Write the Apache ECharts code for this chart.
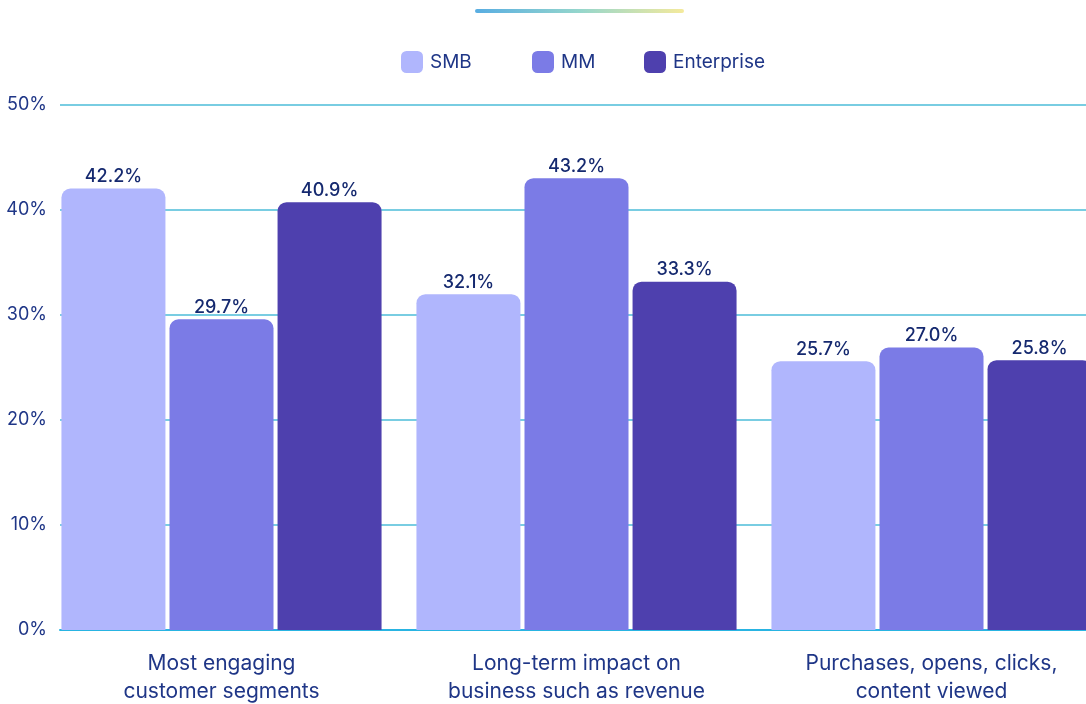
<!DOCTYPE html>
<html lang="en">
<head>
    <meta charset="UTF-8">
    <script src="https://cdn.jsdelivr.net/npm/echarts@6/dist/echarts.min.js"></script>
    <style>
        html, body { margin: 0; padding: 0; background: #fff; }
        #chart { width: 1086px; height: 704px; }
    </style>
</head>
<body>
<div id="chart"></div>
<script>
    // data
    var categories = ['Most engaging\ncustomer segments', 'Long-term impact on\nbusiness such as revenue', 'Purchases, opens, clicks,\ncontent viewed'];
    var seriesNames = ['SMB', 'MM', 'Enterprise'];
    var smbValues = [42.2, 32.1, 25.7];
    var mmValues = [29.7, 43.2, 27.0];
    var enterpriseValues = [40.9, 33.3, 25.8];
    var yTicks = [0, 10, 20, 30, 40, 50];

    var colors = ['#b0b6fd', '#7b7be6', '#4e40ae'];
    var fontFamily = 'Inter, "Noto Sans", sans-serif';
    var navy = '#1f3687';

    var myChart = echarts.init(document.getElementById('chart'));

    function makeSeries(name, values, color) {
        return {
            name: name,
            type: 'bar',
            xAxisIndex: 0,
            yAxisIndex: 0,
            data: values,
            barWidth: 104,
            barGap: '3.9%',
            itemStyle: { color: color, borderRadius: [9, 9, 0, 0] },
            label: {
                show: true,
                position: 'top',
                distance: 3,
                formatter: function (p) { return p.value.toFixed(1) + '%'; },
                color: '#15296f',
                fontFamily: fontFamily,
                fontSize: 18,
                fontWeight: 500
            }
        };
    }

    function makeLegend(name, left) {
        return {
            data: [name],
            left: left,
            top: 51,
            padding: 0,
            icon: 'roundRect',
            itemWidth: 22,
            itemHeight: 22,
            textStyle: { color: navy, fontFamily: fontFamily, fontSize: 19, padding: [5, 0, 0, 2] }
        };
    }

    var option = {
        animation: false,
        color: colors,
        legend: [
            makeLegend('SMB', 401),
            makeLegend('MM', 532),
            makeLegend('Enterprise', 644)
        ],
        graphic: [{
            type: 'line',
            shape: { x1: 477, y1: 11, x2: 682, y2: 11 },
            style: {
                lineWidth: 4,
                lineCap: 'round',
                stroke: new echarts.graphic.LinearGradient(0, 0, 1, 0, [
                    { offset: 0, color: '#58ade2' },
                    { offset: 0.5, color: '#95d6cc' },
                    { offset: 1, color: '#f5ea9c' }
                ])
            }
        }],
        grid: [
            // bars, wider than the window like the cropped original
            { left: 44, width: 1065, top: 107, bottom: 74, outerBoundsMode: 'none' },
            // axis and grid lines
            { left: 60, right: 0, top: 105, bottom: 74, outerBoundsMode: 'none' }
        ],
        xAxis: [{
            type: 'category',
            gridIndex: 0,
            data: categories,
            axisLine: { show: false },
            axisTick: { show: false },
            axisLabel: {
                margin: 20,
                color: navy,
                fontFamily: fontFamily,
                fontSize: 21,
                lineHeight: 28,
                interval: 0
            }
        }, {
            type: 'value',
            gridIndex: 1,
            min: 0,
            max: 1,
            axisLine: { show: true, onZero: false, lineStyle: { color: '#29b4e2', width: 2 } },
            axisTick: { show: false },
            axisLabel: { show: false },
            splitLine: { show: false }
        }],
        yAxis: [{
            type: 'value',
            gridIndex: 0,
            min: yTicks[0],
            max: yTicks[yTicks.length - 1],
            interval: 10,
            show: false
        }, {
            type: 'value',
            gridIndex: 1,
            min: yTicks[0],
            max: yTicks[yTicks.length - 1],
            interval: 10,
            axisLine: { show: false },
            axisTick: { show: false },
            axisLabel: {
                margin: 13,
                color: navy,
                fontFamily: fontFamily,
                fontSize: 18,
                formatter: '{value}%'
            },
            splitLine: { lineStyle: { color: '#4dbcd8', width: 1.5 } }
        }],
        series: [
            makeSeries(seriesNames[0], smbValues, colors[0]),
            makeSeries(seriesNames[1], mmValues, colors[1]),
            makeSeries(seriesNames[2], enterpriseValues, colors[2])
        ]
    };
    myChart.setOption(option);
</script>
</body>
</html>
